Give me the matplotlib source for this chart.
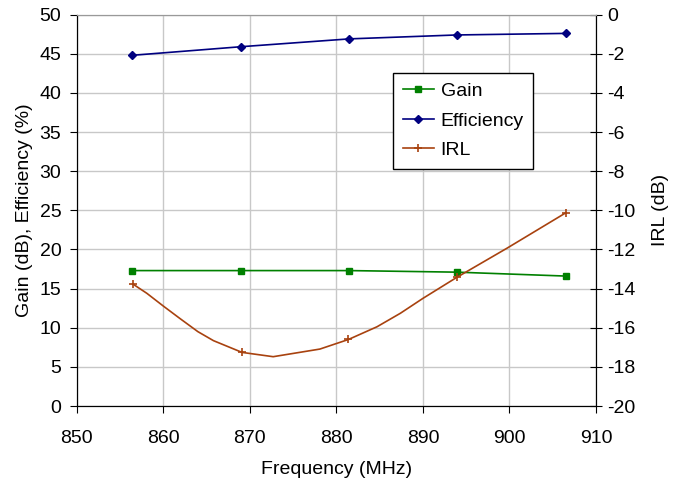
import matplotlib
matplotlib.use("Agg")
import matplotlib.pyplot as plt

plt.rcParams["font.family"] = ["Liberation Sans", "DejaVu Sans"]
plt.rcParams["axes.unicode_minus"] = False

# measured points
freq = [856.4, 869.0, 881.5, 893.9, 906.5]
gain = [17.3, 17.3, 17.3, 17.1, 16.6]
efficiency = [44.8, 45.9, 46.9, 47.4, 47.6]

irl_freq = [856.5, 858.1, 860.0, 861.9, 864.0, 865.8, 869.1, 872.7, 878.1,
            881.4, 884.7, 887.4, 890.0, 893.9, 899.7, 906.5]
irl = [-13.77, -14.24, -14.89, -15.52, -16.20, -16.66, -17.26, -17.48, -17.09,
       -16.60, -15.95, -15.26, -14.50, -13.43, -11.94, -10.13]
irl_marks = [0, 6, 9, 13, 15]

fs = 14

fig = plt.figure(figsize=(6.74, 4.87), dpi=100)
ax = fig.add_axes([0.1138, 0.1663, 0.7705, 0.8037])
ax2 = ax.twinx()

l1, = ax.plot(freq, gain, color="#008000", marker="s", markersize=5,
              linewidth=1.2, label="Gain")
l2, = ax.plot(freq, efficiency, color="#000080", marker="D", markersize=4,
              linewidth=1.2, label="Efficiency")
l3, = ax2.plot(irl_freq, irl, color="#A8420F", marker="+", markersize=6,
               markeredgewidth=1.2, linewidth=1.2, markevery=irl_marks,
               label="IRL")

ax.set_xlim(850, 910)
ax.set_ylim(0, 50)
ax2.set_ylim(-20, 0)
ax.set_xticks(range(850, 911, 10))
ax.set_yticks(range(0, 51, 5))
ax2.set_yticks(range(-20, 1, 2))

ax.grid(True, color="#c8c8c8", linewidth=1)
ax.set_axisbelow(True)

for a in (ax, ax2):
    a.spines["top"].set_color("#999999")
    a.tick_params(labelsize=fs, length=5, color="black")
ax.tick_params(axis="x", direction="out", pad=12)
ax.tick_params(axis="y", direction="out", pad=6)
ax2.tick_params(axis="y", direction="inout", length=8, pad=4)

ax.set_xlabel("Frequency (MHz)", fontsize=fs, labelpad=10)
ax.set_ylabel("Gain (dB), Efficiency (%)", fontsize=fs, labelpad=5)
ax2.set_ylabel("IRL (dB)", fontsize=fs, labelpad=12)

leg = ax2.legend(handles=[l1, l2, l3], loc="upper left",
                 bbox_to_anchor=(0.609, 0.851), borderaxespad=0,
                 fontsize=fs, frameon=True, fancybox=False, framealpha=1,
                 edgecolor="black", handlelength=1.6, handletextpad=0.35,
                 borderpad=0.5, labelspacing=0.6)
leg.get_frame().set_linewidth(1)

fig.savefig("out.png", dpi=100)
